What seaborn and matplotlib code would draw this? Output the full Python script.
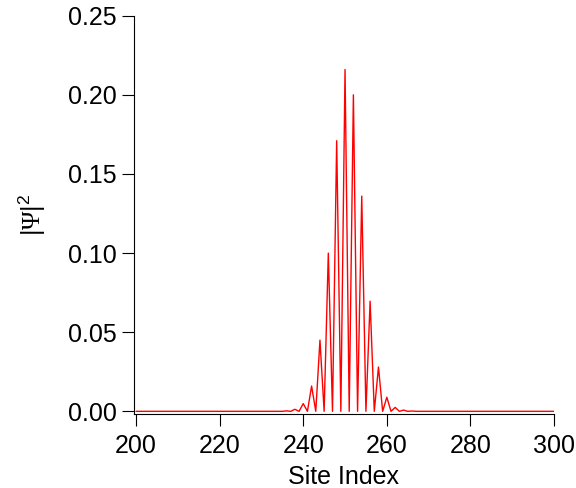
import matplotlib

matplotlib.use("Agg")
import matplotlib.pyplot as plt
import pandas as pd
import seaborn as sns

# site index 200..300; |psi|^2 is zero away from the packet centred at 250
site = list(range(200, 301))
left_zeros = [0.0] * 36  # sites 200-235
packet = [
    0.0003, 0.0, 0.0013, 0.0, 0.0049, 0.0, 0.016, 0.0, 0.045, 0.0,  # 236-245
    0.100, 0.0, 0.171, 0.0, 0.216, 0.0, 0.200, 0.0, 0.136, 0.0,  # 246-255
    0.0696, 0.0, 0.028, 0.0, 0.0089, 0.0, 0.0025, 0.0, 0.0008, 0.0,  # 256-265
    0.0002,  # 266
]
right_zeros = [0.0] * 34  # sites 267-300
psi2 = left_zeros + packet + right_zeros

x_ticks = [200, 220, 240, 260, 280, 300]
y_ticks = [0.00, 0.05, 0.10, 0.15, 0.20, 0.25]

df = pd.DataFrame({"site": site, "psi2": psi2})

sns.set_style("ticks")
plt.rcParams["font.family"] = ["Liberation Sans", "DejaVu Sans"]
plt.rcParams["text.color"] = "black"
plt.rcParams["axes.labelcolor"] = "black"
plt.rcParams["xtick.color"] = "black"
plt.rcParams["ytick.color"] = "black"
# serif Psi, sans bars and exponent
plt.rcParams["mathtext.fontset"] = "custom"
plt.rcParams["mathtext.rm"] = "Liberation Serif"
plt.rcParams["mathtext.sf"] = "Liberation Sans"

fig = plt.figure(figsize=(5.76, 4.88), dpi=100)
ax = fig.add_axes([0.2326, 0.1516, 0.7292, 0.8162])

sns.lineplot(data=df, x="site", y="psi2", color="#ff0000", linewidth=1.0, ax=ax)

ax.set_xlim(199.5, 300)
ax.set_ylim(-0.0017, 0.25)
ax.set_xticks(x_ticks)
ax.set_yticks(y_ticks)
ax.set_yticklabels([f"{v:.2f}" for v in y_ticks])
ax.tick_params(direction="out", length=8.5, width=0.8, labelsize=18, pad=4)
ax.tick_params(axis="x", pad=6)
ax.set_xlabel("Site Index", fontsize=18, labelpad=5)
ax.set_ylabel(r"$\mathsf{|}\mathrm{\Psi}\mathsf{|}^{\mathsf{2}}$", fontsize=18, labelpad=14)

for side in ["top", "right"]:
    ax.spines[side].set_visible(False)
for side in ["left", "bottom"]:
    ax.spines[side].set_linewidth(0.8)
    ax.spines[side].set_color("black")

fig.savefig("out.png", dpi=100)
plt.close("all")
